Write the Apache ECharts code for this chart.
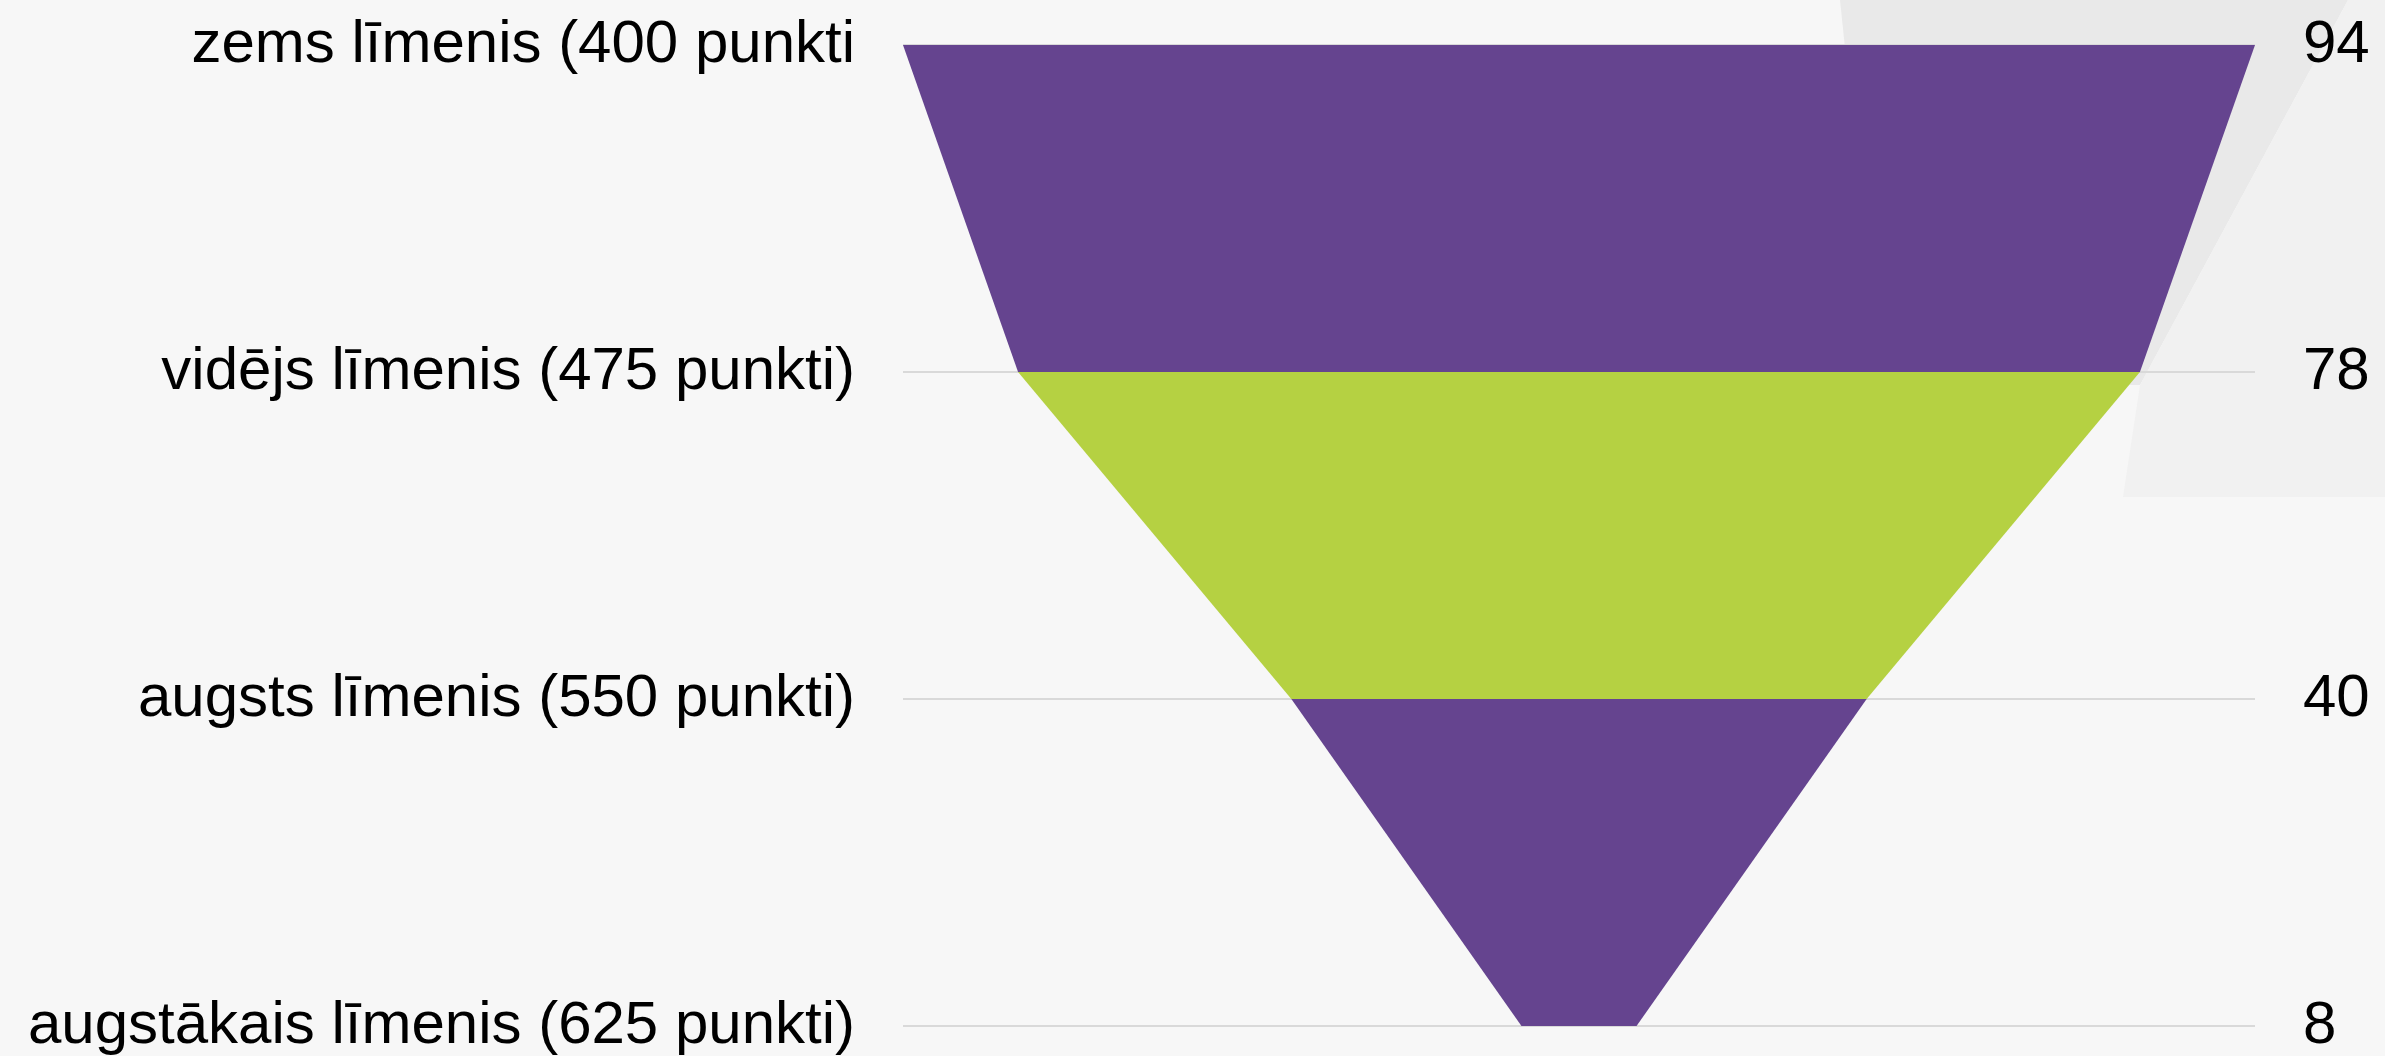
<!DOCTYPE html>
<html>
<head>
<meta charset="utf-8">
<script src="https://cdn.jsdelivr.net/npm/echarts@6/dist/echarts.min.js"></script>
<style>
html,body{margin:0;padding:0;background:#f7f7f7;}
#chart{width:2385px;height:1056px;}
</style>
</head>
<body>
<div id="chart"></div>
<script>
var categories = ['zems līmenis (400 punkti', 'vidējs līmenis (475 punkti)', 'augsts līmenis (550 punkti)', 'augstākais līmenis (625 punkti)'];
var values = [94, 78, 40, 8];
var bandColors = ['#65448F', '#B5D142', '#65448F'];

var bands = [];
for (var i = 0; i < values.length - 1; i++) {
  bands.push([i, values[i], values[i + 1]]);
}
var maxVal = Math.max.apply(null, values);

var chart = echarts.init(document.getElementById('chart'));
chart.setOption({
  backgroundColor: '#f7f7f7',
  animation: false,
  graphic: [
    { type: 'polygon', z: -10, silent: true, shape: { points: [[1840,0],[2348,0],[2140,385],[1880,385]] }, style: { fill: '#e9e9e9' } },
    { type: 'polygon', z: -10, silent: true, shape: { points: [[2348,0],[2385,0],[2385,497],[2123,497],[2140,385]] }, style: { fill: '#f1f1f1' } }
  ],
  grid: { left: 903, right: 130, top: 45, bottom: 28, containLabel: false },
  xAxis: {
    type: 'value', min: -maxVal / 2, max: maxVal / 2,
    show: false
  },
  yAxis: [
    {
      type: 'category', data: categories, inverse: true, boundaryGap: false,
      axisLine: { show: false }, axisTick: { show: false },
      splitLine: { show: true, lineStyle: { color: '#d9d9d9', width: 2 } },
      axisLabel: { color: '#000', fontSize: 60, fontFamily: 'Liberation Sans, Arial, sans-serif', margin: 48 }
    },
    {
      type: 'category', data: values.map(String), inverse: true, boundaryGap: false, position: 'right',
      axisLine: { show: false }, axisTick: { show: false }, splitLine: { show: false },
      axisLabel: { color: '#000', fontSize: 60, fontFamily: 'Liberation Sans, Arial, sans-serif', margin: 48, align: 'left' }
    }
  ],
  series: [{
    type: 'custom',
    yAxisIndex: 0,
    data: bands,
    renderItem: function (params, api) {
      var idx = api.value(0);
      var a = api.value(1) / 2, b = api.value(2) / 2;
      var p1 = api.coord([-a, idx]);
      var p2 = api.coord([a, idx]);
      var p3 = api.coord([b, idx + 1]);
      var p4 = api.coord([-b, idx + 1]);
      return {
        type: 'polygon',
        shape: { points: [p1, p2, p3, p4] },
        style: { fill: bandColors[params.dataIndex] }
      };
    }
  }]
});
</script>
</body>
</html>
